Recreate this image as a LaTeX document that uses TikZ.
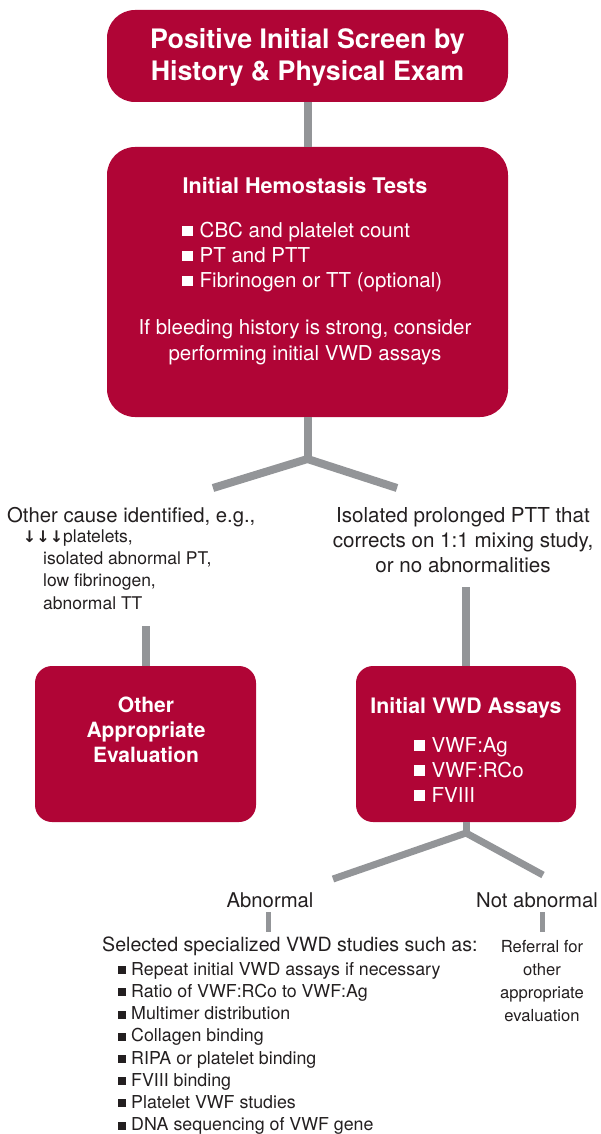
\documentclass[tikz,border=0pt]{standalone}
\usepackage{fontspec}
\setmainfont{TeX Gyre Heros}
\newfontfamily\arrowfont{DejaVu Sans}
\definecolor{vwdred}{HTML}{B00536}
\definecolor{conngray}{HTML}{939598}
\definecolor{txtcol}{HTML}{231F20}
\newcommand\wsq{\rule[1.5pt]{10.5pt}{10.5pt}\hspace{7pt}}
\newcommand\bsq{\rule[1pt]{8pt}{8pt}\hspace{5pt}}
\begin{document}
\begin{tikzpicture}[x=1pt,y=-1pt,
  redbox/.style={fill=vwdred, draw=none, inner sep=0pt},
  conn/.style={draw=conngray, line width=8pt},
  midconn/.style={draw=conngray, line width=7pt},
  thinconn/.style={draw=conngray, line width=5pt},
  whitetxt/.style={text=white, inner sep=0pt},
  darktxt/.style={text=txtcol, inner sep=0pt},
  ]
\useasboundingbox (0,0) rectangle (600,1134);

% boxes
\node[redbox, rounded corners=28pt, minimum width=401pt, minimum height=92pt] (screen) at (307.5,56) {};
\node[redbox, rounded corners=28pt, minimum width=401pt, minimum height=270pt] (hemo) at (307.5,282) {};
\node[redbox, rounded corners=17pt, minimum width=221pt, minimum height=156pt] (other) at (145.5,744) {};
\node[redbox, rounded corners=17pt, minimum width=220pt, minimum height=156pt] (vwd) at (466,744) {};

% connectors
\coordinate (j1) at (307.5,459);
\coordinate (bl) at (213,488);
\coordinate (br) at (397,488);
\coordinate (ls) at (145.5,626);
\coordinate (rs) at (466,587);
\coordinate (j2) at (466,833);
\coordinate (abl) at (333,879);
\coordinate (abr) at (543,875);
\coordinate (as1) at (268,912);
\coordinate (as2) at (268,932);
\coordinate (ns1) at (542,912);
\coordinate (ns2) at (542,932);

\draw[conn] (screen.south) -- (hemo.north);
\draw[conn] (hemo.south) -- (j1);
\draw[conn] (bl) -- (j1) -- (br);
\draw[conn] (ls) -- (other.north);
\draw[conn] (rs) -- (vwd.north);
\draw[midconn] (vwd.south) -- (j2);
\draw[midconn] (abl) -- (j2) -- (abr);
\draw[thinconn] (as1) -- (as2);
\draw[thinconn] (ns1) -- (ns2);

% texts in boxes
\node[whitetxt, align=center, anchor=north, font=\fontsize{26.8}{32}\selectfont\bfseries] (screentxt) at (307.5,28.7)
  {Positive Initial Screen by\\History \& Physical Exam};
\node[whitetxt, anchor=north, font=\fontsize{21.6}{25}\selectfont\bfseries] (hemotitle) at (305,177.5)
  {Initial Hemostasis Tests};
\node[whitetxt, align=left, anchor=north west, font=\fontsize{20.5}{25}\selectfont] (hemolist) at (182,222)
  {\wsq CBC and platelet count\\\wsq PT and PTT\\\wsq Fibrinogen or TT (optional)};
\node[whitetxt, align=center, anchor=north, font=\fontsize{20.5}{26}\selectfont] (hemonote) at (305,319)
  {If bleeding history is strong, consider\\performing initial VWD assays};
\node[whitetxt, align=center, anchor=north, font=\fontsize{21}{25}\selectfont\bfseries] (othertxt) at (146,697)
  {Other\\Appropriate\\Evaluation};
\node[whitetxt, anchor=north, font=\fontsize{21.3}{25}\selectfont\bfseries] (vwdtitle) at (466,697)
  {Initial VWD Assays};
\node[whitetxt, align=left, anchor=north west, font=\fontsize{20.5}{25}\selectfont] (vwdlist) at (414,737)
  {\wsq VWF:Ag\\\wsq VWF:RCo\\\wsq FVIII};

% free texts
\node[darktxt, anchor=base west, font=\fontsize{20.3}{25}\selectfont] (cause) at (7,522)
  {Other cause identified, e.g.,};
\node[darktxt, align=left, anchor=north west, font=\fontsize{17.5}{22.3}\selectfont] (causelist) at (43,529.4)
  {\hspace*{20pt}\llap{\arrowfont\bfseries\fontsize{16}{16}\selectfont ↓↓↓}platelets,\\isolated abnormal PT,\\low fibrinogen,\\abnormal TT};
\node[darktxt, align=center, anchor=north, font=\fontsize{20.6}{25}\selectfont] (ptt) at (463,507)
  {Isolated prolonged PTT that\\corrects on 1:1 mixing study,\\or no abnormalities};
\node[darktxt, anchor=base, font=\fontsize{20.3}{25}\selectfont] (abn) at (270,907) {Abnormal};
\node[darktxt, anchor=base, font=\fontsize{20.3}{25}\selectfont] (notabn) at (537,907) {Not abnormal};
\node[darktxt, anchor=base west, font=\fontsize{19.6}{25}\selectfont] (sel) at (102,951)
  {Selected specialized VWD studies such as:};
\node[darktxt, align=left, anchor=north west, font=\fontsize{17.8}{22.2}\selectfont] (sellist) at (118,962)
  {\bsq Repeat initial VWD assays if necessary\\\bsq Ratio of VWF:RCo to VWF:Ag\\\bsq Multimer distribution\\\bsq Collagen binding\\\bsq RIPA or platelet binding\\\bsq FVIII binding\\\bsq Platelet VWF studies\\\bsq DNA sequencing of VWF gene};
\node[darktxt, align=center, anchor=north, font=\fontsize{16.6}{23}\selectfont] (referral) at (542,940)
  {Referral for\\other\\appropriate\\evaluation};
\end{tikzpicture}
\end{document}
